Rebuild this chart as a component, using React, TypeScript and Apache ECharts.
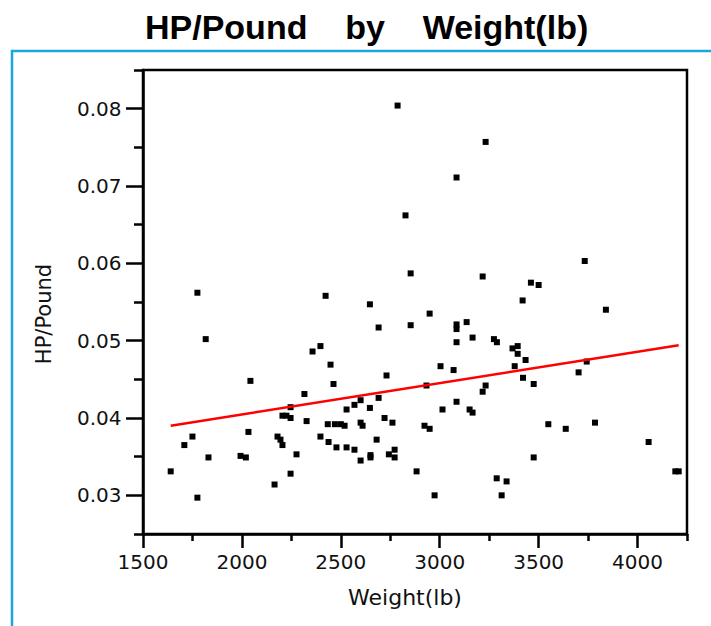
import React, { useEffect, useRef } from "react";
import * as echarts from "echarts";

// Curb weight (lb) of each car
const weights = [
  2787, 2827, 2853, 1775, 2423, 2647,
  3232, 3085, 3733, 3217, 3461, 3500, 3419, 3840,
  2691, 2853, 1817, 2357, 2397, 2448, 2463, 2731, 2316, 2043, 2246,
  2205, 2225, 2246,
  2327, 2529, 2569, 2600, 2691, 2647,
  2434, 2470, 2500, 2519,
  2600, 2610,
  2721, 2761,
  1750, 1709, 1640, 1775, 1831, 2033,
  1993, 2020,
  2180, 2195, 2205,
  2276, 2246, 2165,
  2397, 2438, 2478, 2529, 2569, 2600,
  2650, 2650,
  2681, 2772,
  2743, 2772,
  2883,
  2949,
  3085, 3085,
  3136, 3166, 3085,
  3274, 3289,
  3368, 3394, 3394, 3434,
  3004, 3070, 3379, 3421,
  3475, 3743, 3702,
  2933, 3232, 3217, 3085, 3014,
  3151, 3166,
  2923, 2949,
  3549, 3637, 3785, 4056, 3475,
  4191, 4208,
  3288, 3338, 2974, 3313,
];

// Horsepower per pound of each car (same order)
const hpPerPound = [
  0.0804, 0.0662, 0.0587, 0.0562, 0.0558, 0.0547,
  0.0757, 0.0711, 0.0603, 0.0583, 0.0575, 0.0572, 0.0552, 0.054,
  0.0517, 0.052, 0.0502, 0.0486, 0.0493, 0.0469, 0.0444, 0.0455, 0.0431, 0.0448, 0.0414,
  0.0403, 0.0403, 0.04,
  0.0396, 0.0411, 0.0417, 0.0423, 0.0426, 0.0413,
  0.0392, 0.0392, 0.0392, 0.039,
  0.0394, 0.039,
  0.04, 0.0394,
  0.0376, 0.0365, 0.0331, 0.0297, 0.0349, 0.0382,
  0.0351, 0.0349,
  0.0376, 0.0372, 0.0365,
  0.0353, 0.0328, 0.0314,
  0.0376, 0.0369, 0.0362, 0.0362, 0.0359, 0.0345,
  0.0352, 0.0349,
  0.0372, 0.0359,
  0.0353, 0.0349,
  0.0331,
  0.0535,
  0.0521, 0.0515,
  0.0524, 0.0504, 0.0498,
  0.0502, 0.0498,
  0.049, 0.0493, 0.0483, 0.0475,
  0.0467, 0.0462, 0.0467, 0.0452,
  0.0444, 0.0473, 0.0459,
  0.0442, 0.0442, 0.0434, 0.0421, 0.0411,
  0.0411, 0.0407,
  0.039, 0.0386,
  0.0392, 0.0386, 0.0394, 0.0369, 0.0349,
  0.0331, 0.0331,
  0.0322, 0.0318, 0.03, 0.03,
];

// Linear fit end points
const fitWeights = [1640, 4208];
const fitHpPerPound = [0.039, 0.0494];

// Axes
const xRange = [1500, 4250];
const yRange = [0.025, 0.085];
const xMajorTicks = [1500, 2000, 2500, 3000, 3500, 4000];
const xMinorTicks = [1750, 2250, 2750, 3250, 3750, 4250];
const yMajorTicks = [0.03, 0.04, 0.05, 0.06, 0.07, 0.08];
const yMinorTicks = [0.025, 0.035, 0.045, 0.055, 0.065, 0.075, 0.085];

export default function App() {
  const ref = useRef<HTMLDivElement>(null);

  useEffect(() => {
    if (!ref.current) return;
    const chart = echarts.init(ref.current, null, { renderer: "svg" });
    const labelFont = "'DejaVu Sans', 'Liberation Sans', sans-serif";
    const black = "#000";

    const scatterData = weights.map((w, i) => [w, hpPerPound[i]]);
    const fitData = fitWeights.map((w, i) => [w, fitHpPerPound[i]]);

    chart.setOption({
      animation: false,
      backgroundColor: "#fff",
      title: {
        text: "HP/Pound    by    Weight(lb)",
        left: 145,
        top: 10,
        padding: 0,
        textStyle: {
          fontFamily: "'Liberation Sans', Arial, sans-serif",
          fontWeight: "bold",
          fontSize: 34,
          color: black,
        },
      },
      grid: {
        left: 143,
        right: 24,
        top: 70,
        bottom: 92,
        show: true,
        borderColor: black,
        borderWidth: 2.5,
        backgroundColor: "transparent",
      },
      graphic: [
        {
          type: "polyline",
          silent: true,
          shape: { points: [[12, 626], [12, 51], [711, 51]] },
          style: { stroke: "#1AA7E0", lineWidth: 2.5, fill: null },
        },
      ],
      xAxis: [
        {
          type: "value",
          position: "bottom",
          min: xRange[0],
          max: xRange[1],
          name: "Weight(lb)",
          nameLocation: "middle",
          nameGap: 52,
          nameTextStyle: {
            fontFamily: labelFont,
            fontSize: 22,
            color: "#111",
            padding: [0, 20, 0, 0],
          },
          axisLine: { show: true, lineStyle: { color: black, width: 2.5 } },
          axisTick: {
            show: true,
            length: 14,
            customValues: xMajorTicks,
            lineStyle: { color: black, width: 2.5 },
          },
          axisLabel: {
            customValues: xMajorTicks,
            margin: 18,
            fontSize: 20,
            fontFamily: labelFont,
            color: "#111",
            formatter: (v: number) => String(v),
          },
          splitLine: { show: false },
        },
        {
          type: "value",
          position: "bottom",
          min: xRange[0],
          max: xRange[1],
          axisLine: { show: false },
          axisTick: {
            show: true,
            length: 7,
            customValues: xMinorTicks,
            lineStyle: { color: black, width: 2.5 },
          },
          axisLabel: { show: false },
          splitLine: { show: false },
        },
      ],
      yAxis: [
        {
          type: "value",
          position: "left",
          min: yRange[0],
          max: yRange[1],
          name: "HP/Pound",
          nameLocation: "middle",
          nameGap: 89,
          nameTextStyle: {
            fontFamily: labelFont,
            fontSize: 21,
            color: "#111",
            padding: [0, 24, 0, 0],
          },
          axisLine: { show: true, lineStyle: { color: black, width: 2.5 } },
          axisTick: {
            show: true,
            length: 17,
            customValues: yMajorTicks,
            lineStyle: { color: black, width: 2.5 },
          },
          axisLabel: {
            customValues: yMajorTicks,
            margin: 21.5,
            fontSize: 20,
            fontFamily: labelFont,
            color: "#111",
            formatter: (v: number) => v.toFixed(2),
          },
          splitLine: { show: false },
        },
        {
          type: "value",
          position: "left",
          min: yRange[0],
          max: yRange[1],
          axisLine: { show: false },
          axisTick: {
            show: true,
            length: 9,
            customValues: yMinorTicks,
            lineStyle: { color: black, width: 2.5 },
          },
          axisLabel: { show: false },
          splitLine: { show: false },
        },
      ],
      series: [
        {
          type: "scatter",
          xAxisIndex: 0,
          yAxisIndex: 0,
          symbol: "rect",
          symbolSize: 6,
          itemStyle: { color: black, opacity: 1 },
          emphasis: { disabled: true },
          data: scatterData,
        },
        {
          type: "line",
          xAxisIndex: 0,
          yAxisIndex: 0,
          symbol: "none",
          lineStyle: { color: "#FF0000", width: 2.5 },
          emphasis: { disabled: true },
          data: fitData,
        },
      ],
    });

    return () => chart.dispose();
  }, []);

  return (
    <div
      ref={ref}
      style={{
        position: "fixed",
        left: 0,
        top: 0,
        width: 711,
        height: 626,
        background: "#fff",
      }}
    />
  );
}
